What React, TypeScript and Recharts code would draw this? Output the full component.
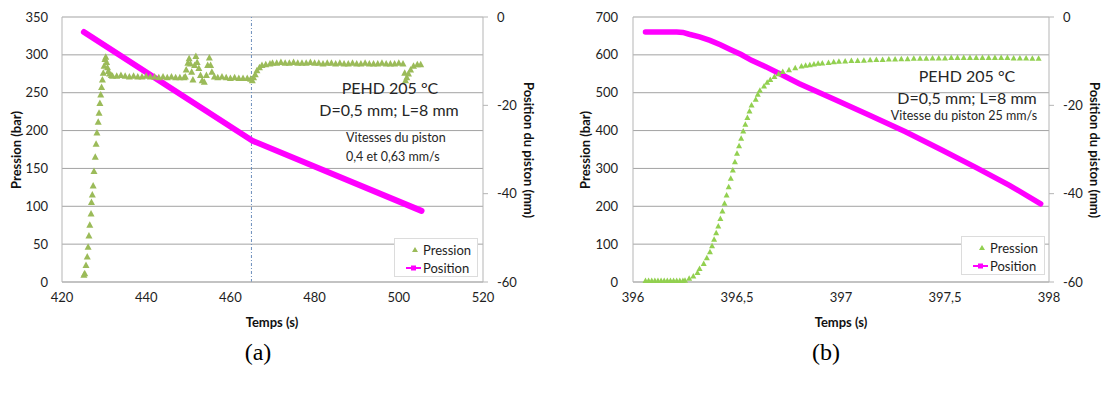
import React from "react";
import {
  ComposedChart,
  Scatter,
  Line,
  XAxis,
  YAxis,
  CartesianGrid,
  ReferenceLine,
} from "recharts";

// ---------- Data ----------
// Chart (a): time (s) vs pressure (bar)
const pressionA: [number, number][] = [
  [425.2, 9], [425.4, 11], [425.7, 22], [426.0, 33], [426.2, 46], [426.4, 61],
  [426.6, 75], [426.9, 90], [427.0, 105], [427.2, 115], [427.4, 127], [427.6, 146],
  [427.9, 165], [428.1, 182], [428.3, 197], [428.6, 211], [428.8, 223], [429.0, 236],
  [429.2, 247], [429.4, 257], [429.6, 267], [429.8, 276], [430.0, 285], [430.2, 294],
  [430.4, 297], [430.6, 290], [430.8, 283], [431.0, 278], [431.3, 275], [431.7, 273],
  [432, 272], [433, 272], [434, 273], [435, 272], [436, 271], [437, 272], [438, 271],
  [439, 271], [440, 272], [441, 271], [442, 271], [443, 270], [444, 271], [445, 270],
  [446, 271], [447, 270], [448, 270], [449, 270],
  [449.3, 271], [449.5, 280], [449.9, 289], [450.2, 295], [450.5, 288], [450.8, 277],
  [451.1, 267], [451.5, 286], [451.8, 298], [452.1, 290], [452.5, 282], [452.9, 273],
  [453.3, 266], [453.8, 264], [454.3, 273], [454.6, 286], [455.0, 296], [455.3, 286],
  [455.6, 277], [456.2, 271], [457, 270], [458, 271], [459, 270], [460, 269], [461, 270],
  [462, 269], [463, 269], [464, 269], [464.8, 268], [465.2, 266], [465.5, 270],
  [465.9, 274], [466.3, 279], [466.9, 283], [467.5, 286], [468.4, 287], [469.4, 288],
  [470, 289], [471, 289], [472, 290], [473, 289], [474, 289], [475, 290], [476, 289],
  [477, 289], [478, 289], [479, 290], [480, 289], [481, 289], [482, 288], [483, 289],
  [484, 289], [485, 288], [486, 289], [487, 288], [488, 288], [489, 289], [490, 288],
  [491, 288], [492, 289], [493, 288], [494, 288], [495, 288], [496, 289], [497, 288],
  [498, 288], [499, 288], [500, 289], [501, 288], [501.4, 276], [501.6, 266],
  [501.9, 270], [502.3, 275], [502.8, 280], [503.5, 285], [504.4, 287], [505.2, 287],
];
// Chart (a): time (s) vs piston position (mm)
const positionA: [number, number][] = [
  [425.2, -3.4], [465.2, -28.0], [505.4, -43.9],
];

// Chart (b): time (s) vs pressure (bar)
const pressionB: [number, number][] = [
  [396.06, 3], [396.075, 3], [396.09, 3], [396.105, 3], [396.12, 3], [396.135, 3],
  [396.15, 3], [396.165, 3], [396.18, 3], [396.195, 3], [396.21, 3], [396.225, 3],
  [396.24, 3], [396.25, 4], [396.27, 9], [396.29, 15], [396.31, 24], [396.32, 35],
  [396.34, 48], [396.355, 63], [396.37, 79], [396.38, 95], [396.39, 112], [396.40, 129],
  [396.41, 147], [396.42, 167], [396.43, 187], [396.44, 207], [396.45, 229], [396.46, 251],
  [396.47, 273], [396.48, 295], [396.49, 317], [396.50, 339], [396.51, 359], [396.52, 379],
  [396.53, 398], [396.54, 416], [396.55, 434], [396.56, 451], [396.57, 467], [396.59, 482],
  [396.60, 495], [396.61, 506], [396.63, 517], [396.645, 527], [396.66, 534], [396.68, 542],
  [396.70, 549], [396.72, 555], [396.75, 560], [396.78, 565], [396.81, 570], [396.83, 572],
  [396.85, 573], [396.87, 575], [396.89, 577], [396.91, 578], [396.94, 579], [396.965, 581],
  [396.99, 582], [397.02, 583], [397.05, 584], [397.08, 584.5], [397.11, 585],
  [397.14, 586], [397.17, 587], [397.20, 587], [397.23, 588], [397.26, 588], [397.29, 589],
  [397.32, 589], [397.35, 590], [397.38, 590], [397.41, 590], [397.44, 591], [397.47, 591],
  [397.50, 591], [397.53, 592], [397.56, 592], [397.59, 592], [397.62, 592], [397.65, 592],
  [397.68, 592], [397.71, 592], [397.74, 592], [397.77, 592], [397.80, 592], [397.83, 591],
  [397.86, 591], [397.89, 591], [397.92, 590], [397.95, 590],
];
// Chart (b): time (s) vs piston position (mm)
const positionB: [number, number][] = [
  [396.06, -3.4], [396.13, -3.4], [396.21, -3.4], [396.24, -3.5], [396.27, -3.9],
  [396.32, -4.5], [396.37, -5.3], [396.42, -6.3], [396.47, -7.4], [396.52, -8.5],
  [396.57, -9.8], [396.64, -11.3], [396.72, -13.2], [396.80, -15.1], [396.97, -18.7],
  [397.14, -22.3], [397.31, -26.0], [397.48, -30.0], [397.65, -34.1], [397.81, -38.1],
  [397.96, -42.3],
];

// Axis ticks
const ticksXA = [420, 440, 460, 480, 500, 520];
const ticksPA = [0, 50, 100, 150, 200, 250, 300, 350];
const ticksXB = [396, 396.5, 397, 397.5, 398];
const ticksPB = [0, 100, 200, 300, 400, 500, 600, 700];
const ticksPos = [-60, -40, -20, 0];
const dashedTime = 465;

const FONT = "Lato, 'Open Sans', sans-serif";
const GREEN_A = "#9bbb59";
const GREEN_B = "#92d050";
const MAGENTA = "#ff00ff";
const GRID = "#a3a3a3";
const AXIS = "#b5b5b5";
const TXT = "#1e1e1e";

const toP = (arr: [number, number][]) => arr.map(([t, p]) => ({ t, p }));
const toPos = (arr: [number, number][]) => arr.map(([t, pos]) => ({ t, pos }));

const makeTriangle = (color: string, hw: number, h: number) => (props: any) => {
  const { cx, cy } = props;
  if (cx == null || cy == null) return <g />;
  return (
    <polygon
      points={`${cx},${cy - h * 0.6} ${cx - hw},${cy + h * 0.4} ${cx + hw},${cy + h * 0.4}`}
      fill={color}
    />
  );
};

const TriA = makeTriangle(GREEN_A, 3.5, 6.5);
const TriB = makeTriangle(GREEN_B, 3, 5.5);

const tickStyle = { fill: TXT, fontSize: 13, fontFamily: FONT };

const Legend = ({ left, top, green }: { left: number; top: number; green: string }) => (
  <div
    style={{
      position: "absolute",
      left,
      top,
      width: 84,
      height: 39,
      background: "#fff",
      border: "1px solid #dcdcdc",
      boxSizing: "border-box",
      fontFamily: FONT,
      fontSize: 13,
      color: TXT,
    }}
  >
    <div style={{ position: "absolute", left: 0, top: 2, height: 18, display: "flex", alignItems: "center" }}>
      <svg width={28} height={18} style={{ display: "block" }}>
        <polygon points="20,6 17,11 23,11" fill={green} />
      </svg>
      <span>Pression</span>
    </div>
    <div style={{ position: "absolute", left: 0, top: 20, height: 18, display: "flex", alignItems: "center" }}>
      <svg width={28} height={18} style={{ display: "block" }}>
        <line x1={11} y1={9} x2={26} y2={9} stroke={MAGENTA} strokeWidth={2} />
        <rect x={16} y={6.5} width={5} height={5} fill={MAGENTA} />
      </svg>
      <span>Position</span>
    </div>
  </div>
);

const Txt = ({
  x, y, size, children, anchor = "center",
}: { x: number; y: number; size: number; children: React.ReactNode; anchor?: "center" | "left" }) => (
  <div
    style={{
      position: "absolute",
      left: x,
      top: y,
      transform: anchor === "center" ? "translate(-50%, -50%)" : "translate(0, -50%)",
      whiteSpace: "nowrap",
      fontFamily: FONT,
      fontSize: size,
      color: "#262626",
      lineHeight: 1,
    }}
  >
    {children}
  </div>
);

const VTitle = ({ x, y, children, rot }: { x: number; y: number; children: React.ReactNode; rot: number }) => (
  <div
    style={{
      position: "absolute",
      left: x,
      top: y,
      transform: `translate(-50%, -50%) rotate(${rot}deg)`,
      whiteSpace: "nowrap",
      fontFamily: FONT,
      fontSize: 13,
      fontWeight: 700,
      color: "#111",
      lineHeight: 1,
    }}
  >
    {children}
  </div>
);

export default function App() {
  const dataPA = toP(pressionA);
  const dataPosA = toPos(positionA);
  const dataPB = toP(pressionB);
  const dataPosB = toPos(positionB);

  return (
    <div style={{ position: "absolute", left: 0, top: 0, width: 1106, height: 396, background: "#fff", overflow: "hidden" }}>
      {/* Chart (a) */}
      <div style={{ position: "absolute", left: 0, top: 0 }}>
        <ComposedChart width={550} height={340} margin={{ top: 17, right: 0, bottom: 8, left: 0 }} style={{ fontFamily: FONT }}>
          <CartesianGrid yAxisId="p" vertical={false} stroke={GRID} />
          <XAxis
            dataKey="t"
            type="number"
            domain={[420, 520]}
            ticks={ticksXA}
            interval={0}
            height={50}
            tickLine={false}
            tickSize={6}
            tickMargin={5}
            axisLine={{ stroke: AXIS }}
            tick={tickStyle}
            allowDataOverflow
          />
          <YAxis
            yAxisId="p"
            orientation="left"
            type="number"
            domain={[0, 350]}
            ticks={ticksPA}
            interval={0}
            width={62}
            tickLine={false}
            tickSize={6}
            tickMargin={8}
            axisLine={{ stroke: AXIS }}
            tick={tickStyle}
          />
          <YAxis
            yAxisId="pos"
            orientation="right"
            type="number"
            domain={[-60, 0]}
            ticks={ticksPos}
            interval={0}
            width={67}
            tickSize={5}
            tickMargin={9}
            tickLine={{ stroke: AXIS }}
            axisLine={{ stroke: AXIS }}
            tick={{ ...tickStyle, textAnchor: "start" }}
          />
          <ReferenceLine x={dashedTime} yAxisId="p" stroke="#6d8fbd" strokeDasharray="3 2 1 2" strokeWidth={1} />
          <Scatter data={dataPA} dataKey="p" yAxisId="p" shape={TriA} isAnimationActive={false} />
          <Line
            data={dataPosA}
            dataKey="pos"
            yAxisId="pos"
            type="linear"
            stroke={MAGENTA}
            strokeWidth={6}
            strokeLinecap="round"
            dot={false}
            activeDot={false}
            isAnimationActive={false}
          />
        </ComposedChart>
      </div>

      {/* Chart (b) */}
      <div style={{ position: "absolute", left: 560, top: 0 }}>
        <ComposedChart width={546} height={340} margin={{ top: 17, right: 0, bottom: 8, left: 0 }} style={{ fontFamily: FONT }}>
          <CartesianGrid yAxisId="p" vertical={false} stroke={GRID} />
          <XAxis
            dataKey="t"
            type="number"
            domain={[396, 398]}
            ticks={ticksXB}
            interval={0}
            height={50}
            tickLine={false}
            tickSize={6}
            tickMargin={5}
            axisLine={{ stroke: AXIS }}
            tick={tickStyle}
            tickFormatter={(v: number) => String(v).replace(".", ",")}
            allowDataOverflow
          />
          <YAxis
            yAxisId="p"
            orientation="left"
            type="number"
            domain={[0, 700]}
            ticks={ticksPB}
            interval={0}
            width={73}
            tickLine={false}
            tickSize={6}
            tickMargin={9}
            axisLine={{ stroke: AXIS }}
            tick={tickStyle}
          />
          <YAxis
            yAxisId="pos"
            orientation="right"
            type="number"
            domain={[-60, 0]}
            ticks={ticksPos}
            interval={0}
            width={57}
            tickSize={5}
            tickMargin={9}
            tickLine={{ stroke: AXIS }}
            axisLine={{ stroke: AXIS }}
            tick={{ ...tickStyle, textAnchor: "start" }}
          />
          <Scatter data={dataPB} dataKey="p" yAxisId="p" shape={TriB} isAnimationActive={false} />
          <Line
            data={dataPosB}
            dataKey="pos"
            yAxisId="pos"
            type="linear"
            stroke={MAGENTA}
            strokeWidth={5.5}
            strokeLinecap="round"
            dot={false}
            activeDot={false}
            isAnimationActive={false}
          />
        </ComposedChart>
      </div>

      {/* Axis titles */}
      <VTitle x={16} y={150} rot={-90}>Pression (bar)</VTitle>
      <VTitle x={528} y={150} rot={90}>Position du piston (mm)</VTitle>
      <div style={{ position: "absolute", left: 272, top: 322, transform: "translate(-50%,-50%)", fontFamily: FONT, fontSize: 13, fontWeight: 700, color: "#111", whiteSpace: "nowrap", lineHeight: 1 }}>Temps (s)</div>

      <VTitle x={585} y={150} rot={-90}>Pression (bar)</VTitle>
      <VTitle x={1094} y={150} rot={90}>Position du piston (mm)</VTitle>
      <div style={{ position: "absolute", left: 841, top: 322, transform: "translate(-50%,-50%)", fontFamily: FONT, fontSize: 13, fontWeight: 700, color: "#111", whiteSpace: "nowrap", lineHeight: 1 }}>Temps (s)</div>

      {/* Annotations (a) */}
      <Txt x={390} y={88} size={16}>PEHD 205 °C</Txt>
      <Txt x={389} y={110} size={16}>D=0,5 mm; L=8 mm</Txt>
      <Txt x={346} y={138} size={12.5} anchor="left">Vitesses du piston</Txt>
      <Txt x={346} y={157} size={12.5} anchor="left">0,4 et 0,63 mm/s</Txt>

      {/* Annotations (b) */}
      <Txt x={967} y={76} size={16}>PEHD 205 °C</Txt>
      <Txt x={967} y={98} size={16}>D=0,5 mm; L=8 mm</Txt>
      <Txt x={964} y={116} size={12.5}>Vitesse du piston 25 mm/s</Txt>

      {/* Legends */}
      <Legend left={394} top={238} green={GREEN_A} />
      <Legend left={961} top={236} green={GREEN_B} />

      {/* Sub-figure labels */}
      <div style={{ position: "absolute", left: 258, top: 352, transform: "translate(-50%,-50%)", fontFamily: "'Liberation Serif', 'DejaVu Serif', serif", fontSize: 24, color: "#000", lineHeight: 1 }}>(a)</div>
      <div style={{ position: "absolute", left: 826, top: 352, transform: "translate(-50%,-50%)", fontFamily: "'Liberation Serif', 'DejaVu Serif', serif", fontSize: 24, color: "#000", lineHeight: 1 }}>(b)</div>
    </div>
  );
}
